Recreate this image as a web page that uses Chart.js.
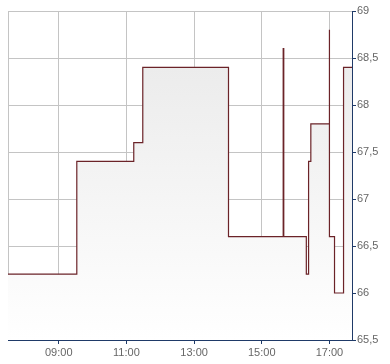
<!DOCTYPE html>
<html>
<head>
  <title>Intraday Kurs</title>
  <script src="https://cdn.jsdelivr.net/npm/chart.js@4"></script>
  <style>
    html, body { margin: 0; padding: 0; background: #fff; }
    #wrap { width: 390px; height: 364px; }
  </style>
</head>
<body>
<div id="wrap"><canvas id="myChart"></canvas></div>
<script>
  // time of each price change, minutes since midnight
  const times = [450, 572, 673, 689, 841, 938, 939, 979, 983, 987, 1020, 1020, 1029, 1045, 1060];
  // price after the change
  const prices = [66.2, 67.4, 67.6, 68.4, 66.6, 68.6, 66.6, 66.2, 67.4, 67.8, 68.8, 66.6, 66.0, 68.4, 68.4];
  const xTicks = [450, 540, 660, 780, 900, 1020];
  const xMin = 450, xMax = 1060;
  const yMin = 65.5, yMax = 69, yStep = 0.5;

  const points = times.map((t, i) => ({ x: t, y: prices[i] }));

  function hhmm(v) {
    const h = Math.floor(v / 60), m = v % 60;
    return String(h).padStart(2, '0') + ':' + String(m).padStart(2, '0');
  }

  const axisBlue = '#1f3a68';
  const gridGray = '#c4c4c4';

  new Chart(document.getElementById('myChart'), {
    type: 'line',
    data: {
      datasets: [{
        data: points,
        stepped: true,
        borderColor: '#6b2328',
        borderWidth: 1.2,
        pointRadius: 0,
        fill: 'start',
        backgroundColor: ctx => {
          const area = ctx.chart.chartArea;
          if (!area) return '#eeeeee';
          const g = ctx.chart.ctx.createLinearGradient(0, area.top, 0, area.bottom);
          g.addColorStop(0, '#e8e8e8');
          g.addColorStop(1, '#ffffff');
          return g;
        }
      }]
    },
    options: {
      responsive: true,
      maintainAspectRatio: false,
      animation: false,
      layout: { padding: { top: 11, left: 8, right: 0, bottom: 0 } },
      plugins: { legend: { display: false }, tooltip: { enabled: false } },
      scales: {
        x: {
          type: 'linear',
          min: xMin,
          max: xMax,
          afterBuildTicks: scale => { scale.ticks = xTicks.map(v => ({ value: v })); },
          afterFit: scale => { scale.height = 24; },
          grid: {
            color: gridGray,
            tickLength: 4,
            tickColor: ctx => (ctx.tick && ctx.tick.value === xMin) ? 'rgba(0,0,0,0)' : axisBlue
          },
          border: { color: axisBlue, width: 1 },
          ticks: {
            padding: 2,
            color: '#666',
            font: { family: 'Liberation Sans, Arial', size: 11 },
            maxRotation: 0,
            callback: v => v === xMin ? '' : hhmm(v)
          }
        },
        y: {
          position: 'right',
          min: yMin,
          max: yMax,
          afterFit: scale => { scale.width = 38; },
          grid: { color: gridGray, tickColor: axisBlue, tickLength: 4 },
          border: { color: axisBlue, width: 1 },
          ticks: {
            stepSize: yStep,
            padding: 1,
            color: '#666',
            font: { family: 'Liberation Sans, Arial', size: 11 },
            callback: v => String(v).replace('.', ',')
          }
        }
      }
    }
  });
</script>
</body>
</html>
